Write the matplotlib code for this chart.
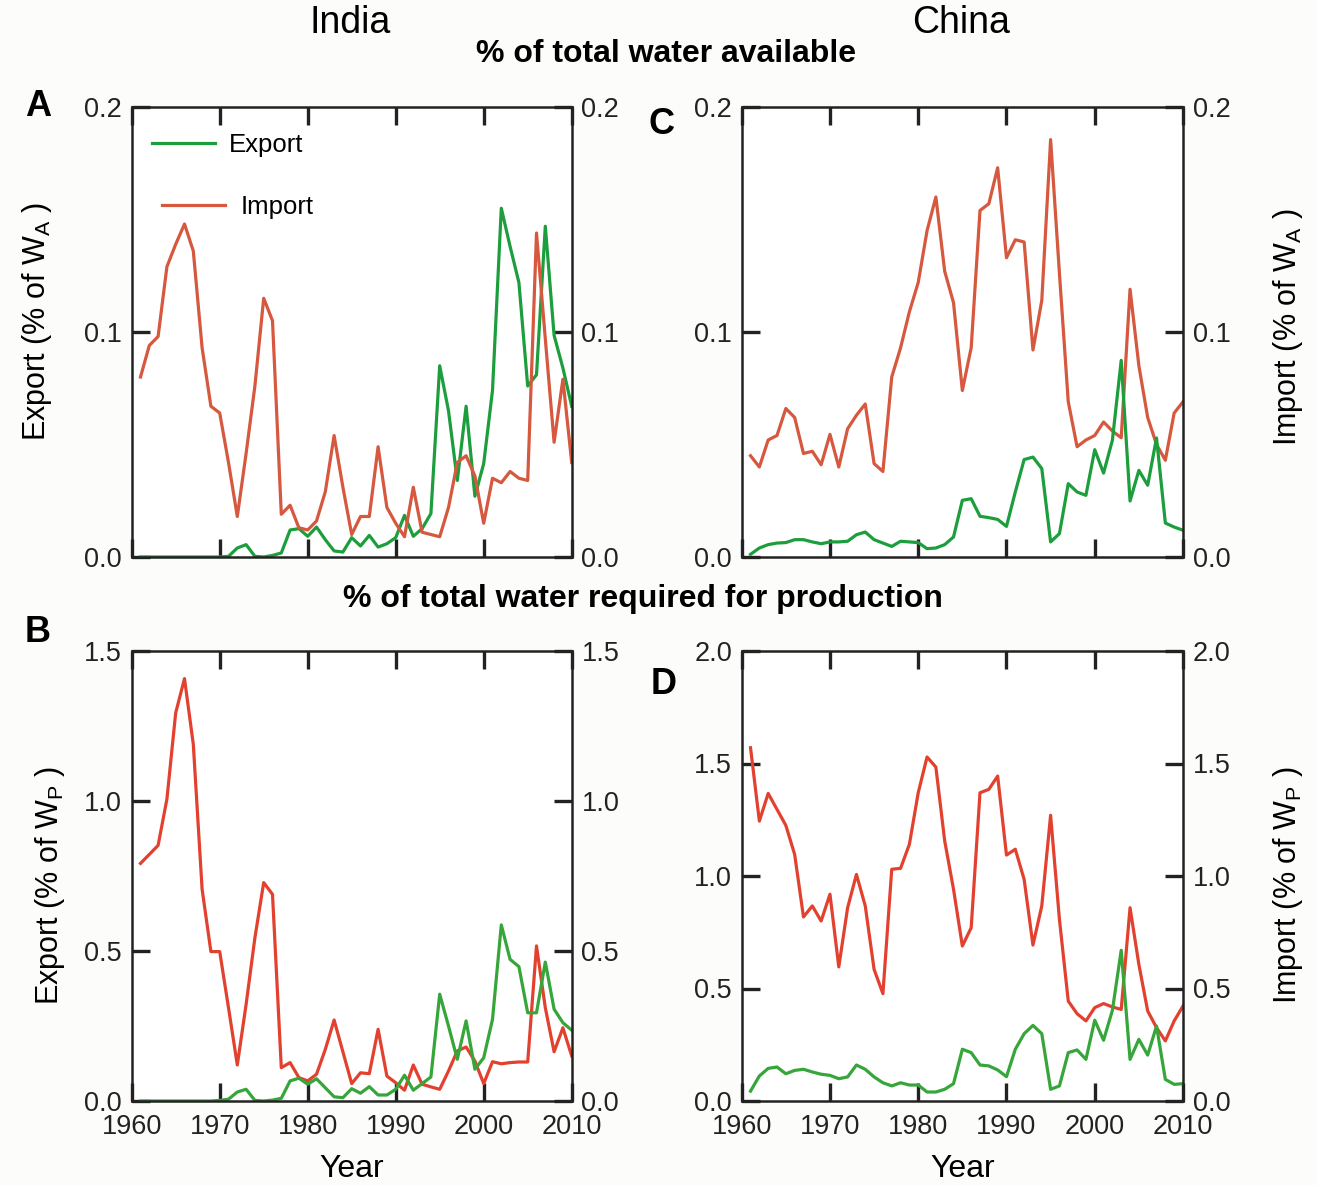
from matplotlib import pyplot as plt

plt.rcParams["font.family"] = ["Liberation Sans", "DejaVu Sans"]

years = list(range(1961, 2011))

# India, % of total water available (W_A)
india_imp_wa = [0.080, 0.094, 0.098, 0.129, 0.139, 0.148, 0.136, 0.093, 0.067, 0.064,
                0.042, 0.018, 0.046, 0.076, 0.115, 0.105, 0.019, 0.023, 0.013, 0.012,
                0.016, 0.029, 0.054, 0.031, 0.010, 0.018, 0.018, 0.049, 0.022, 0.015,
                0.009, 0.031, 0.011, 0.010, 0.009, 0.022, 0.042, 0.045, 0.036, 0.015,
                0.035, 0.033, 0.038, 0.035, 0.034, 0.144, 0.097, 0.051, 0.079, 0.042]
india_exp_wa = [0.0, 0.0, 0.0, 0.0, 0.0, 0.0, 0.0, 0.0, 0.0, 0.0,
                0.0003, 0.004, 0.0055, 0.0003, 0.0, 0.0007, 0.0018, 0.012, 0.0126, 0.0092,
                0.0133, 0.0077, 0.0027, 0.0022, 0.0086, 0.0049, 0.0096, 0.0044, 0.0059, 0.0086,
                0.0185, 0.0092, 0.0126, 0.0193, 0.085, 0.065, 0.034, 0.067, 0.027, 0.0415,
                0.074, 0.155, 0.138, 0.122, 0.076, 0.081, 0.147, 0.0985, 0.084, 0.067]

# China, % of total water available (W_A)
china_imp_wa = [0.045, 0.040, 0.052, 0.054, 0.066, 0.062, 0.046, 0.047, 0.041, 0.0545,
                0.040, 0.057, 0.063, 0.068, 0.0415, 0.038, 0.080, 0.093, 0.109, 0.122,
                0.145, 0.160, 0.127, 0.113, 0.074, 0.093, 0.154, 0.157, 0.173, 0.133,
                0.141, 0.140, 0.092, 0.114, 0.1855, 0.126, 0.069, 0.049, 0.052, 0.054,
                0.060, 0.056, 0.053, 0.119, 0.085, 0.062, 0.050, 0.043, 0.064, 0.069]
china_exp_wa = [0.0012, 0.004, 0.0055, 0.0062, 0.0064, 0.0077, 0.0077, 0.0067, 0.0059, 0.0067,
                0.0067, 0.007, 0.0099, 0.0111, 0.0077, 0.0062, 0.0047, 0.007, 0.0067, 0.0064,
                0.0037, 0.004, 0.0055, 0.0089, 0.0252, 0.0259, 0.0181, 0.0175, 0.0167, 0.0136,
                0.0289, 0.0433, 0.0444, 0.0393, 0.0067, 0.0104, 0.0326, 0.0289, 0.0274, 0.0477,
                0.0373, 0.0519, 0.0874, 0.0249, 0.0385, 0.0319, 0.0529, 0.0151, 0.0133, 0.0119]

# India, % of total water required for production (W_P)
india_imp_wp = [0.792, 0.822, 0.852, 1.006, 1.294, 1.408, 1.189, 0.706, 0.498, 0.498,
                0.311, 0.120, 0.322, 0.544, 0.728, 0.689, 0.111, 0.128, 0.078, 0.067,
                0.089, 0.172, 0.270, 0.164, 0.058, 0.094, 0.091, 0.239, 0.083, 0.061,
                0.036, 0.120, 0.056, 0.047, 0.039, 0.100, 0.167, 0.180, 0.133, 0.058,
                0.131, 0.124, 0.128, 0.130, 0.130, 0.517, 0.311, 0.164, 0.244, 0.150]
india_exp_wp = [0.0, 0.0, 0.0, 0.0, 0.0, 0.0, 0.0, 0.0, 0.0, 0.002,
                0.006, 0.030, 0.039, 0.002, 0.0, 0.003, 0.009, 0.067, 0.076, 0.056,
                0.074, 0.044, 0.014, 0.011, 0.041, 0.026, 0.048, 0.020, 0.020, 0.039,
                0.086, 0.036, 0.058, 0.080, 0.356, 0.250, 0.139, 0.267, 0.106, 0.144,
                0.272, 0.587, 0.472, 0.448, 0.294, 0.294, 0.463, 0.306, 0.261, 0.236]

# China, % of total water required for production (W_P)
china_imp_wp = [1.570, 1.244, 1.367, 1.296, 1.225, 1.096, 0.818, 0.867, 0.800, 0.919,
                0.596, 0.859, 1.007, 0.867, 0.585, 0.477, 1.030, 1.034, 1.141, 1.370,
                1.529, 1.484, 1.156, 0.941, 0.689, 0.770, 1.370, 1.385, 1.444, 1.093,
                1.119, 0.985, 0.693, 0.867, 1.270, 0.807, 0.444, 0.388, 0.356, 0.415,
                0.433, 0.418, 0.407, 0.859, 0.607, 0.400, 0.326, 0.267, 0.356, 0.422]
china_exp_wp = [0.044, 0.111, 0.145, 0.151, 0.121, 0.136, 0.141, 0.129, 0.119, 0.114,
                0.099, 0.107, 0.160, 0.141, 0.107, 0.081, 0.067, 0.081, 0.071, 0.071,
                0.040, 0.040, 0.052, 0.077, 0.230, 0.215, 0.160, 0.156, 0.138, 0.108,
                0.230, 0.299, 0.336, 0.299, 0.052, 0.067, 0.215, 0.227, 0.185, 0.359,
                0.270, 0.403, 0.670, 0.185, 0.274, 0.204, 0.333, 0.096, 0.074, 0.077]

green_top = "#1c9e3c"
red_top = "#d5583f"
green_bot = "#36a63a"
red_bot = "#e3412f"

fig = plt.figure(figsize=(13.17, 11.85), dpi=100, facecolor="#fcfcfa")

W, H = 1317.0, 1185.0


def make_ax(x0, x1, y0, y1):
    ax = fig.add_axes([x0 / W, 1 - y1 / H, (x1 - x0) / W, (y1 - y0) / H])
    ax.set_facecolor("white")
    for s in ax.spines.values():
        s.set_linewidth(1.8)
        s.set_color("#222222")
    ax.tick_params(direction="in", length=13, width=2.4, top=True, right=True,
                   labelright=True, labelsize=19.5, pad=7, colors="#222222")
    ax.tick_params(axis="x", pad=9)
    ax.set_xlim(1960, 2010)
    ax.set_xticks([1960, 1970, 1980, 1990, 2000, 2010])
    return ax


axA = make_ax(131.7, 571.7, 107, 557)
axC = make_ax(741.7, 1183, 107, 557)
axB = make_ax(131.7, 571.7, 651, 1101)
axD = make_ax(741.7, 1183, 651, 1101)

lw = 2.3
axA.plot(years, india_exp_wa, color=green_top, lw=lw, label="Export")
axA.plot(years, india_imp_wa, color=red_top, lw=lw, label="Import")
axC.plot(years, china_imp_wa, color=red_top, lw=lw)
axC.plot(years, china_exp_wa, color=green_top, lw=lw)
axB.plot(years, india_imp_wp, color=red_bot, lw=lw)
axB.plot(years, india_exp_wp, color=green_bot, lw=lw)
axD.plot(years, china_imp_wp, color=red_bot, lw=lw)
axD.plot(years, china_exp_wp, color=green_bot, lw=lw)

for ax in (axA, axC):
    ax.set_ylim(0, 0.2)
    ax.set_yticks([0.0, 0.1, 0.2])
    ax.set_yticklabels(["0.0", "0.1", "0.2"])
    ax.tick_params(axis="x", labelbottom=False)

axB.set_ylim(0, 1.5)
axB.set_yticks([0.0, 0.5, 1.0, 1.5])
axB.set_yticklabels(["0.0", "0.5", "1.0", "1.5"])
axD.set_ylim(0, 2.0)
axD.set_yticks([0.0, 0.5, 1.0, 1.5, 2.0])
axD.set_yticklabels(["0.0", "0.5", "1.0", "1.5", "2.0"])

for ax in (axB, axD):
    ax.set_xlabel("Year", fontsize=23)
    ax.xaxis.set_label_coords(0.5, -0.118)

axA.set_ylabel("Export (% of W$_\\mathregular{A}$ )", fontsize=22)
axA.yaxis.set_label_coords(-0.176, 0.524)
axB.set_ylabel("Export (% of W$_\\mathregular{P}$ )", fontsize=22)
axB.yaxis.set_label_coords(-0.147, 0.48)
axC.yaxis.set_label_position("right")
axC.set_ylabel("Import (% of W$_\\mathregular{A}$ )", fontsize=22)
axC.yaxis.set_label_coords(1.2, 0.511)
axD.yaxis.set_label_position("right")
axD.set_ylabel("Import (% of W$_\\mathregular{P}$ )", fontsize=22)
axD.yaxis.set_label_coords(1.2, 0.48)

# legend: two entries drawn slightly offset, as in the original
h_exp, h_imp = axA.get_lines()
leg1 = axA.legend([h_exp], ["Export"], loc="center left", bbox_to_anchor=(0.046, 0.916),
                  frameon=False, fontsize=18.5, handlelength=2.45, handletextpad=0.55,
                  borderpad=0, borderaxespad=0)
axA.add_artist(leg1)
axA.legend([h_imp], ["Import"], loc="center left", bbox_to_anchor=(0.069, 0.778),
           frameon=False, fontsize=18.5, handlelength=2.45, handletextpad=0.6,
           borderpad=0, borderaxespad=0)

# titles and panel letters
fig.text(350 / W, 1 - 23 / H, "India", fontsize=27, ha="center", va="center")
fig.text(961 / W, 1 - 23 / H, "China", fontsize=27, ha="center", va="center")
fig.text(666 / W, 1 - 54 / H, "% of total water available", fontsize=23,
         fontweight="bold", ha="center", va="center")
fig.text(643 / W, 1 - 599 / H, "% of total water required for production", fontsize=23,
         fontweight="bold", ha="center", va="center")
fig.text(38 / W, 1 - 106 / H, "A", fontsize=26, fontweight="bold", ha="center", va="center")
fig.text(662 / W, 1 - 124 / H, "C", fontsize=26, fontweight="bold", ha="center", va="center")
fig.text(38 / W, 1 - 633 / H, "B", fontsize=26, fontweight="bold", ha="center", va="center")
fig.text(664 / W, 1 - 684 / H, "D", fontsize=26, fontweight="bold", ha="center", va="center")

plt.savefig("out.png", dpi=100, facecolor=fig.get_facecolor())
